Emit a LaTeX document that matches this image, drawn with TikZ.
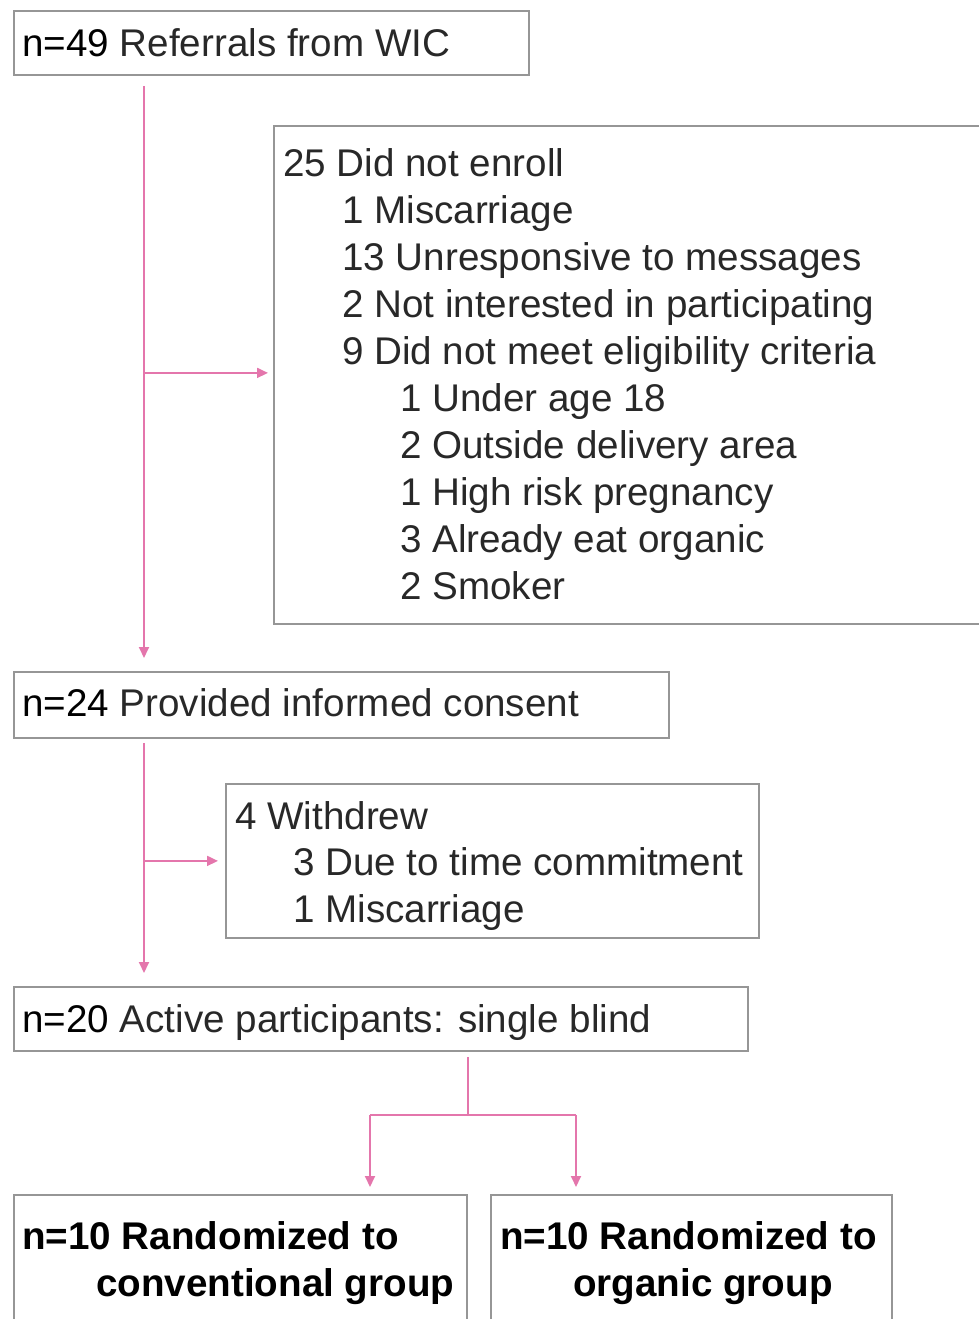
\documentclass[tikz,border=0pt]{standalone}
\usepackage{fontspec}
\setmainfont{Liberation Sans}
\usetikzlibrary{arrows.meta,calc}
\definecolor{pinkline}{RGB}{228,118,172}
\definecolor{boxgray}{RGB}{150,150,150}
\definecolor{txt}{RGB}{40,40,40}
\begin{document}
\begin{tikzpicture}[x=1pt,y=-1pt,
  box/.style={draw=boxgray,line width=1.8pt,anchor=north west,inner sep=0pt,fill=none},
  lbl/.style={anchor=base west,inner sep=0pt,text=txt,font=\fontsize{38.6}{47}\selectfont},
  blbl/.style={anchor=base west,inner sep=0pt,text=black,font=\fontsize{38.6}{47}\selectfont\bfseries},
  conn/.style={draw=pinkline,line width=1.8pt,-{Triangle[length=11pt,width=10pt]}},
  connplain/.style={draw=pinkline,line width=1.8pt}]
\useasboundingbox (0,0) rectangle (979,1319);
\begin{scope}
\clip (0,0) rectangle (979,1319);
% boxes
\node[box,minimum width=515,minimum height=64] (b1) at (13,10) {};
\node[box,minimum width=720,minimum height=498] (b2) at (273,125) {};
\node[box,minimum width=655,minimum height=66] (b3) at (13,671) {};
\node[box,minimum width=533,minimum height=154] (b4) at (225,783) {};
\node[box,minimum width=734,minimum height=64] (b5) at (13,986) {};
\node[box,minimum width=453,minimum height=160] (b6) at (13,1194) {};
\node[box,minimum width=401,minimum height=160] (b7) at (490,1194) {};
\end{scope}
% texts
\node[lbl] (t1) at (22,57) {\textcolor{black}{n=49} Referrals from WIC};
\node[lbl] (t2a) at (283,176) {25 Did not enroll};
\node[lbl] (t2b) at (342,223) {1 Miscarriage};
\node[lbl] (t2c) at (342,270) {13 Unresponsive to messages};
\node[lbl] (t2d) at (342,317) {2 Not interested in participating};
\node[lbl] (t2e) at (342,364) {9 Did not meet eligibility criteria};
\node[lbl] (t2f) at (400,411) {1 Under age 18};
\node[lbl] (t2g) at (400,458) {2 Outside delivery area};
\node[lbl] (t2h) at (400,505) {1 High risk pregnancy};
\node[lbl] (t2i) at (400,552) {3 Already eat organic};
\node[lbl] (t2j) at (400,599) {2 Smoker};
\node[lbl] (t3) at (22,716) {\textcolor{black}{n=24} Provided informed consent};
\node[lbl] (t4a) at (235,829) {4 Withdrew};
\node[lbl] (t4b) at (293,875) {3 Due to time commitment};
\node[lbl] (t4c) at (293,922) {1 Miscarriage};
\node[lbl] (t5) at (22,1032) {\textcolor{black}{n=20} Active participants: single blind};
\node[blbl] (t6a) at (22,1249) {n=10 Randomized to};
\node[blbl] (t6b) at (96,1296) {conventional group};
\node[blbl] (t7a) at (500,1249) {n=10 Randomized to};
\node[blbl] (t7b) at (573,1296) {organic group};
% connectors
\coordinate (j1) at ($(b1.south west |- b2.west)+(131,-2)$);
\draw[connplain] ($(b1.south west)+(131,10)$) -- (j1);
\draw[conn] (j1) -- ($(b3.north west)+(131,-13)$);
\draw[conn] (j1) -- ($(b2.west)+(-5,-2)$);
\coordinate (j2) at ($(b3.south west |- b4.west)+(131,0)$);
\draw[connplain] ($(b3.south west)+(131,4)$) -- (j2);
\draw[conn] (j2) -- ($(b5.north west)+(131,-13)$);
\draw[conn] (j2) -- ($(b4.west)+(-7,0)$);
\coordinate (s5) at ($(b5.south west)+(455,5)$);
\coordinate (j3) at ($(s5)+(0,58)$);
\draw[connplain] (s5) -- (j3);
\coordinate (jl) at ($(j3)+(-98,0)$);
\coordinate (jr) at ($(j3)+(108,0)$);
\draw[connplain] (jl) -- (jr);
\draw[conn] (jl) -- ($(b6.north west)+(357,-7)$);
\draw[conn] (jr) -- ($(b7.north west)+(86,-7)$);
\end{tikzpicture}
\end{document}
